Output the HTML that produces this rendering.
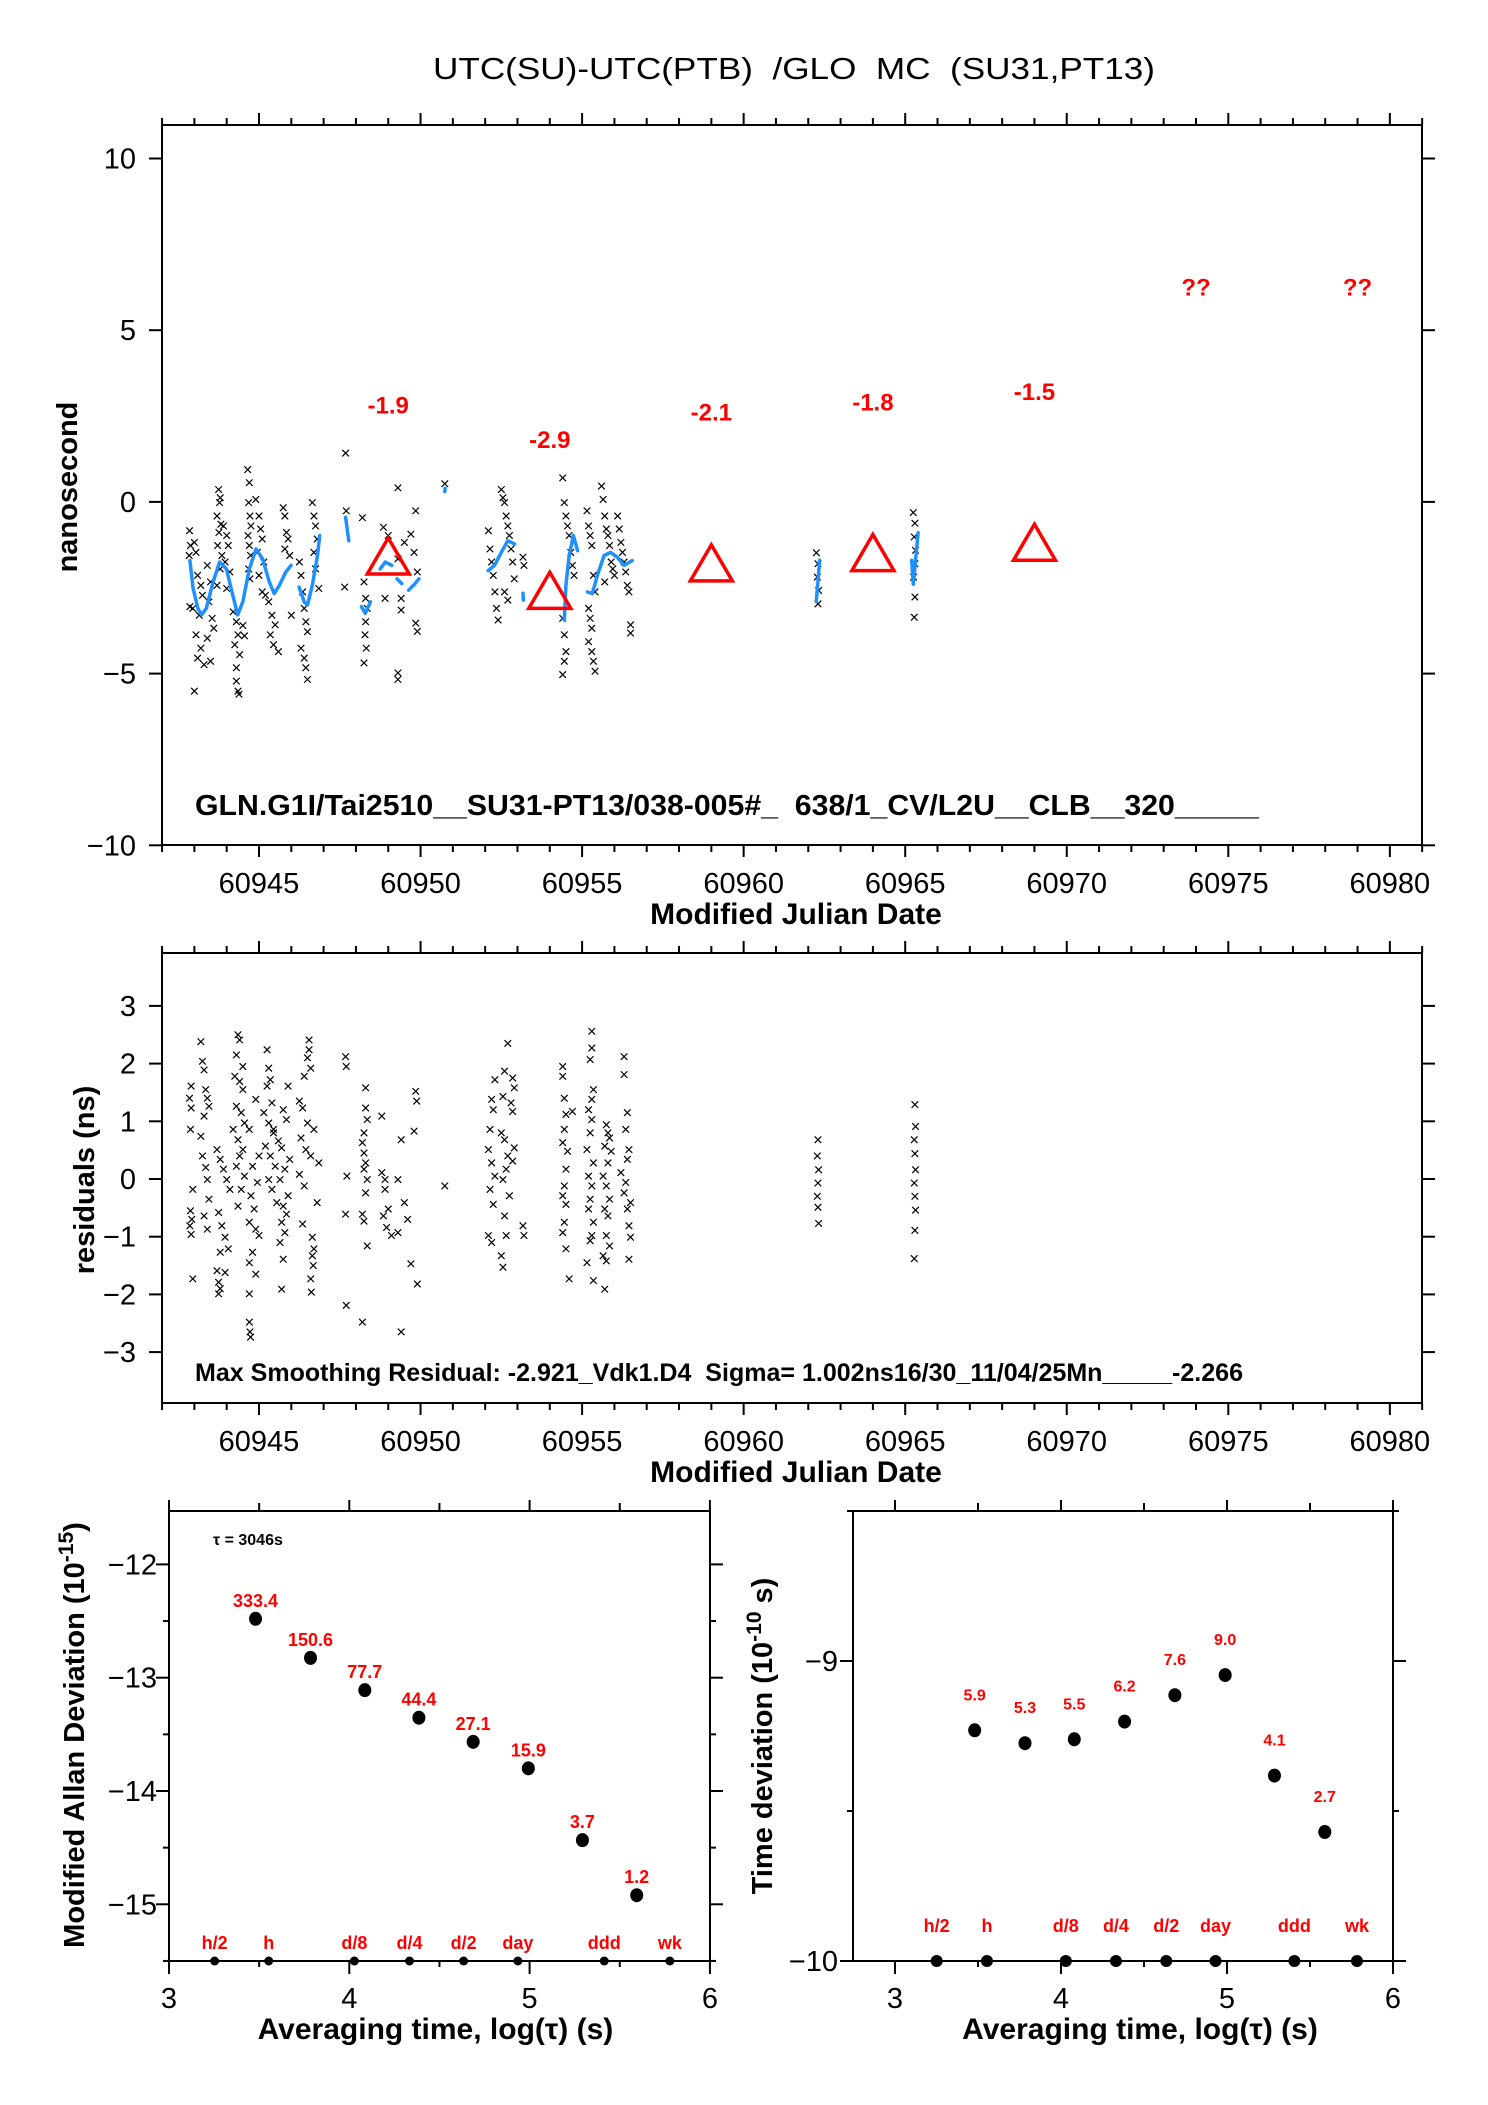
<!DOCTYPE html>
<html><head><meta charset="utf-8"><style>
html,body{margin:0;padding:0;background:#fff;}
svg{display:block;font-family:"Liberation Sans",Arial,sans-serif;}
</style></head><body>
<svg id="chart" width="1488" height="2105" viewBox="0 0 1488 2105" xmlns="http://www.w3.org/2000/svg">
<rect x="0" y="0" width="1488" height="2105" fill="#fff"/>
<text x="794" y="79" font-size="31" text-anchor="middle" textLength="722" lengthAdjust="spacingAndGlyphs" xml:space="preserve">UTC(SU)-UTC(PTB)  /GLO  MC  (SU31,PT13)</text>
<g id="topplot"></g>
<g id="midplot"></g>
<g id="adev"></g>
<g id="tdev"></g>
</svg>
<script>
// ---- top plot data ----
const topX = [60942.85,60942.88,60942.84,60942.86,
60943.0,60943.05,60943.1,60943.2,60943.25,60942.95,60943.15,60943.05,60943.2,60943.1,60943.3,60943.0,
60943.4,60943.5,60943.45,60943.55,60943.6,60943.4,60943.5,
60943.75,60943.8,60943.78,60943.7,60943.82,60943.76,60943.72,60943.85,60943.8,60943.7,
60943.9,60944.0,60944.05,60943.95,60944.1,60944.0,
60944.2,60944.3,60944.35,60944.25,60944.4,60944.3,60944.3,60944.35,60944.38,60944.5,60944.55,
60944.65,60944.7,60944.68,60944.72,60944.75,60944.66,60944.7,60944.74,60944.68,60944.72,
60944.9,60945.0,60945.05,60945.1,60944.95,60945.15,60945.0,60945.1,
60945.2,60945.3,60945.4,60945.5,60945.35,60945.45,60945.6,
60945.75,60945.8,60945.85,60945.9,60945.8,60945.95,60946.0,
60946.25,60946.3,60946.35,60946.4,60946.45,60946.5,60946.3,60946.4,60946.45,60946.5,
60946.65,60946.7,60946.75,60946.8,60946.7,60946.75,60946.85,
60947.68,60947.7,60947.65,
60948.2,60948.25,60948.3,60948.35,60948.3,60948.28,60948.32,60948.25,
60948.85,60949.0,60948.9,
60949.3,60949.85,60949.7,60949.5,60949.8,60949.3,60949.9,60949.4,60949.4,60949.85,60949.9,60949.3,60949.3,
60950.75,
60952.1,60952.15,60952.2,60952.25,60952.3,60952.35,60952.4,
60952.5,60952.55,60952.6,60952.65,60952.7,60952.75,60952.8,60952.85,60952.9,60952.6,60952.7,
60953.17,60953.2,
60954.4,60954.45,60954.5,60954.55,60954.6,60954.65,60954.7,60954.75,60954.4,60954.45,60954.5,60954.45,60954.4,
60955.15,60955.2,60955.25,60955.3,60955.35,60955.4,60955.2,60955.25,60955.3,60955.2,60955.3,60955.35,60955.4,
60955.6,60955.65,60955.7,60955.75,60955.8,60955.85,60955.9,60955.95,60956.0,60955.7,
60956.1,60956.15,60956.2,60956.25,60956.3,60956.35,60956.4,60956.45,60956.5,60956.5,
60962.25,60962.3,60962.28,60962.32,60962.3,
60965.25,60965.3,60965.28,60965.32,60965.3,60965.26,60965.3,60965.28];
const topY = [-0.84,-1.27,-1.56,-3.05,
-1.18,-1.47,-2.14,-2.43,-2.72,-3.1,-3.3,-3.87,-4.26,-4.55,-4.74,-5.51,
-1.85,-2.33,-2.91,-3.39,-3.68,-3.97,-4.64,
0.36,0.12,-0.02,-0.41,-0.65,-0.89,-1.27,-1.56,-1.95,-2.43,
-0.7,-0.98,-1.27,-1.75,-2.04,-2.52,
-3.2,-3.49,-3.87,-4.16,-4.45,-4.83,-5.22,-5.51,-5.6,-3.6,-3.9,
0.94,0.56,-0.02,-0.41,-0.7,-0.98,-1.27,-1.56,-1.95,-2.24,
0.07,-0.41,-0.79,-1.08,-1.47,-1.75,-2.14,-2.62,
-2.72,-2.91,-3.3,-3.58,-3.87,-4.16,-4.36,
-0.17,-0.41,-0.89,-1.08,-1.37,-1.56,-3.3,
-1.75,-2.14,-2.62,-3.1,-3.49,-3.78,-4.26,-4.55,-4.83,-5.17,
-0.02,-0.41,-0.7,-1.08,-1.47,-1.95,-2.52,
1.42,-0.26,-2.48,
-0.46,-2.33,-2.81,-3.1,-3.49,-3.87,-4.26,-4.69,
-0.74,-0.98,-2.81,
0.41,-0.26,-0.94,-1.18,-1.47,-1.66,-2.04,-2.81,-3.15,-3.53,-3.77,-4.98,-5.17,
0.53,
-0.84,-1.37,-1.75,-2.14,-2.62,-3.1,-3.44,
0.36,0.12,-0.02,-0.41,-0.7,-0.98,-1.37,-1.75,-2.24,-2.62,-2.86,
-1.61,-1.85,
0.7,-0.02,-0.41,-0.7,-0.98,-1.47,-1.85,-2.14,-3.39,-3.87,-4.36,-4.64,-5.03,
-0.26,-0.7,-0.98,-1.27,-2.14,-2.62,-3.1,-3.39,-3.68,-4.07,-4.36,-4.64,-4.93,
0.46,0.07,-0.41,-0.79,-0.98,-1.27,-1.75,-1.95,-2.14,-2.33,
-0.41,-0.79,-1.18,-1.47,-1.75,-2.04,-2.43,-2.62,-3.58,-3.82,
-1.48,-1.8,-2.19,-2.58,-2.97,
-0.31,-0.62,-1.02,-1.41,-1.8,-2.19,-2.77,-3.36];
const smoothX = [
[60942.86,60942.96,60943.11,60943.22,60943.37,60943.58,60943.78,60943.99,60944.19,60944.34,60944.5,60944.7,60944.91,60945.11,60945.32,60945.47,60945.63,60945.83,60945.99],
[60946.24,60946.4,60946.5,60946.65,60946.81,60946.88],
[60947.68,60947.78],[60948.17,60948.29,60948.45],[60948.75,60948.91,60949.11],[60949.27,60949.42],
[60949.63,60949.83,60949.95],[60950.75,60950.76],
[60952.09,60952.29,60952.5,60952.7,60952.91],[60953.17,60953.18],
[60954.45,60954.5,60954.6,60954.73,60954.86],
[60955.16,60955.32,60955.47,60955.68,60955.88,60956.09,60956.3,60956.55],
[60962.25,60962.3,60962.35],[60965.2,60965.25,60965.35,60965.4]];
const smoothY = [
[-1.71,-2.52,-3.10,-3.29,-3.10,-2.33,-1.75,-1.95,-2.72,-3.29,-2.91,-1.95,-1.37,-1.66,-2.33,-2.67,-2.43,-2.04,-1.85],
[-2.48,-2.91,-3.0,-2.43,-1.56,-0.98],
[-0.45,-1.13],[-3.05,-3.24,-2.91],[-1.95,-1.75,-1.85],[-2.24,-2.38],
[-2.57,-2.38,-2.24],[0.3,0.4],
[-2.0,-1.85,-1.47,-1.13,-1.23],[-2.66,-2.86],
[-3.44,-2.43,-1.56,-0.98,-1.42],
[-2.62,-2.67,-2.14,-1.56,-1.47,-1.61,-1.85,-1.71],
[-2.9,-2.3,-1.7],[-1.7,-2.4,-1.4,-0.9]];
const triMjd = [60949,60954,60959,60964,60969];
const triVal = [-1.9,-2.9,-2.1,-1.8,-1.5];
const qMjd = [60974,60979];
const topXTicks = [60945,60950,60955,60960,60965,60970,60975,60980];
const topYTicks = [10,5,0,-5,-10];

// ---- residuals data ----
const resX = [60942.85,60942.9,60942.95,60942.88,60942.92,60942.86,60942.9,60942.95,60942.9,60942.88,
60943.2,60943.25,60943.3,60943.35,60943.4,60943.45,60943.3,60943.2,60943.25,60943.35,60943.4,60943.45,60943.3,60943.4,
60943.7,60943.8,60943.9,60944.0,60944.1,60943.75,60943.85,60943.95,60944.05,60943.8,60943.7,60943.75,60943.8,60943.75,60943.95,
60944.35,60944.4,60944.3,60944.5,60944.25,60944.4,60944.5,60944.3,60944.45,60944.55,60944.2,60944.35,60944.5,60944.4,60944.3,60944.55,60944.45,60944.35,
60944.9,60944.7,60945.0,60944.8,60944.95,60944.75,60944.85,60944.7,60944.9,60945.0,60944.8,60944.7,60944.9,60944.7,60944.7,60944.72,60944.74,
60945.25,60945.3,60945.35,60945.25,60945.4,60945.15,60945.3,60945.45,60945.2,60945.35,60945.5,60945.3,60945.4,60945.55,60945.45,60945.6,
60945.9,60945.75,60945.85,60945.7,60945.95,60945.8,60945.65,60945.9,60945.75,60945.85,60945.7,60945.8,60945.65,60945.75,60945.7,
60946.55,60946.55,60946.5,60946.6,60946.4,60946.25,60946.35,60946.5,60946.7,60946.3,60946.45,60946.6,60946.85,60946.25,60946.4,60946.8,60946.35,60946.65,60946.7,60946.65,60946.68,60946.6,60946.62,
60947.68,60947.7,60947.72,60947.68,60947.7,
60948.3,60948.3,60948.35,60948.25,60948.2,60948.25,60948.3,60948.25,60948.35,60948.3,60948.2,60948.25,60948.35,60948.2,
60948.8,60948.8,60948.9,60948.9,60949.0,60948.85,60948.95,60949.1,
60949.4,60949.3,60949.5,60949.6,60949.3,60949.7,60949.9,60949.4,60949.85,60949.88,60949.8,
60950.75,
60952.3,60952.2,60952.25,60952.15,60952.1,60952.2,60952.3,60952.15,60952.25,60952.1,60952.2,
60952.7,60952.6,60952.55,60952.5,60952.6,60952.7,60952.65,60952.55,60952.75,60952.6,60952.65,60952.5,60952.55,60952.85,60952.9,60952.8,60952.85,60952.9,60952.85,
60953.17,60953.2,
60954.4,60954.4,60954.45,60954.5,60954.45,60954.4,60954.55,60954.5,60954.45,60954.4,60954.5,60954.45,60954.4,60954.5,60954.6,60954.7,
60955.3,60955.3,60955.25,60955.35,60955.3,60955.2,60955.3,60955.25,60955.15,60955.35,60955.2,60955.3,60955.25,60955.2,60955.35,60955.3,60955.25,60955.15,60955.35,
60955.75,60955.8,60955.85,60955.7,60955.9,60955.8,60955.65,60955.75,60955.85,60955.7,60955.8,60955.75,60955.85,60955.65,60955.75,60955.7,
60956.3,60956.3,60956.4,60956.35,60956.45,60956.4,60956.2,60956.35,60956.3,60956.5,60956.4,60956.45,60956.5,60956.45,
60962.3,60962.28,60962.32,60962.3,60962.28,60962.3,60962.32,
60965.3,60965.32,60965.28,60965.3,60965.32,60965.28,60965.3,60965.32,60965.3,60965.28];
const resY = [1.40,1.23,-0.18,-0.55,-0.70,-0.81,-0.96,-1.73,1.61,0.86,
2.38,2.04,1.89,1.55,1.4,1.26,1.09,0.74,0.4,0.2,-0.01,-0.35,-0.64,-0.87,
0.51,0.34,0.17,-0.01,-0.18,-0.58,-0.81,-1.01,-1.21,-1.27,-1.59,-1.79,-1.9,-1.99,-1.62,
2.50,2.41,2.15,1.95,1.78,1.69,1.55,1.26,1.15,0.97,0.86,0.68,0.51,0.4,0.22,0.05,-0.18,-0.47,
1.38,0.86,0.4,0.22,-0.06,-0.29,-0.52,-0.75,-0.87,-0.98,-1.27,-1.45,-1.65,-1.99,-2.48,-2.65,-2.74,
2.24,1.92,1.72,1.61,1.32,1.15,0.97,0.8,0.57,0.4,0.22,-0.01,-0.18,-0.41,0.86,0.66,
1.61,1.2,1.03,0.54,0.34,0.17,-0.01,-0.29,-0.47,-0.61,-0.75,-0.93,-1.1,-1.39,-1.91,
2.41,2.24,2.1,1.92,1.78,1.35,1.23,0.97,0.86,0.71,0.51,0.4,0.28,0.08,-0.12,-0.41,-0.78,-1.01,-1.21,-1.33,-1.5,-1.73,-1.96,
2.12,1.95,0.05,-0.61,-2.19,
1.58,1.23,1.03,0.8,0.63,0.45,0.28,0.17,-0.01,-0.24,-0.61,-0.73,-1.16,-2.48,
1.09,0.11,-0.01,-0.18,-0.52,-0.64,-0.84,-0.98,
0.68,-0.01,-0.41,-0.7,-0.93,-1.47,-1.82,-2.65,1.52,1.35,0.83,
-0.12,
1.72,1.38,1.2,0.86,0.51,0.28,0.05,-0.18,-0.44,-0.98,-1.1,
2.35,1.87,1.43,0.8,0.68,0.4,0.17,-0.01,-0.29,-0.64,-0.98,-1.33,-1.53,1.75,1.58,1.32,1.17,0.54,0.31,
-0.81,-0.98,
1.95,1.78,1.4,1.12,0.86,0.63,0.48,0.17,-0.12,-0.29,-0.44,-0.75,-0.93,-1.21,-1.73,1.17,
2.56,2.27,2.07,1.55,1.38,1.2,1.03,0.8,0.51,0.28,0.05,-0.12,-0.35,-0.52,-0.75,-0.98,-1.07,-1.45,-1.76,
0.94,0.8,0.71,0.57,0.48,0.28,0.05,-0.12,-0.35,-0.52,-0.64,-0.98,-1.16,-1.33,-1.42,-1.91,
2.12,1.81,1.15,0.86,0.51,0.34,0.11,-0.06,-0.24,-0.41,-0.52,-0.81,-1.01,-1.39,
0.68,0.4,0.16,-0.07,-0.3,-0.49,-0.77,
1.29,0.91,0.68,0.44,0.16,-0.07,-0.3,-0.54,-0.89,-1.38];
const resYTicks = [3,2,1,0,-1,-2,-3];

// ---- ADEV data ----
const adevLogTau = [3.48,3.785,4.086,4.386,4.687,4.993,5.293,5.594];
const adevVal = [-12.48,-12.825,-13.11,-13.353,-13.566,-13.80,-14.434,-14.92];
const adevLabels = ["333.4","150.6","77.7","44.4","27.1","15.9","3.7","1.2"];
const adevYTicks = [-12,-13,-14,-15];
// ---- TDEV data ----
const tdevLogTau = [3.48,3.783,4.08,4.383,4.686,4.989,5.286,5.589];
const tdevVal = [-9.231,-9.274,-9.261,-9.202,-9.114,-9.047,-9.382,-9.570];
const tdevLabels = ["5.9","5.3","5.5","6.2","7.6","9.0","4.1","2.7"];
const tdevYTicks = [-9,-10];
const refNames = ["h/2","h","d/8","d/4","d/2","day","ddd","wk"];
const refLogTauL = [3.253,3.553,4.028,4.334,4.634,4.935,5.414,5.778];
const refLogTauR = [3.251,3.554,4.029,4.331,4.634,4.931,5.406,5.783];
const logTicks = [3,4,5,6];

const NS = "http://www.w3.org/2000/svg";
function mk(parent, tag, attrs, txt){
  const e = document.createElementNS(NS, tag);
  for (const k in attrs) e.setAttribute(k, attrs[k]);
  if (txt !== undefined) e.textContent = txt;
  parent.appendChild(e); return e;
}
function line(p,x1,y1,x2,y2,w){ return mk(p,'line',{x1,y1,x2,y2,stroke:'#000','stroke-width':w||2}); }

const TL=162, TR=1422, TT=125, TB=845;
const xM = m => 259 + (m-60945)*32.31;
const yT = v => 501.9 - v*34.34;
const MT=953, MB=1403;
const yR = v => 1179 - v*57.7;
const AL=169, AR=710, AT=1511, AB=1961;
const xA = l => 169 + (l-3)*180.3;
const yA = v => 1904.3 - (v+15)*113.3;
const RL=853, RR=1393, RT=1511, RB=1961;
const xB = l => 895 + (l-3)*166;
const yB = v => 1961 - (v+10)*300;

function cross(p, x, y){
  return mk(p,'path',{d:`M${x-3.3},${y-3.3}L${x+3.3},${y+3.3}M${x-3.3},${y+3.3}L${x+3.3},${y-3.3}`,stroke:'#000','stroke-width':1.2,fill:'none'});
}

function mjdFrame(g, T, B){
  const fr = mk(g,'rect',{x:TL,y:T,width:TR-TL,height:B-T,fill:'none',stroke:'#000','stroke-width':2});
  
  
  for (let m=60942; m<=60981; m++){
    const x = xM(m), major = (m%5===0);
    line(g,x,T,x,T-(major?12:7),2);
    line(g,x,B,x,B+(major?12:7),2);
  }
  topXTicks.forEach(m=>{
    const t = mk(g,'text',{x:xM(m),y:B+48,'font-size':29,'text-anchor':'middle'},String(m));
    
    
  });
  const xt = mk(g,'text',{x:796,y:B+79,'font-size':30,'font-weight':'bold','text-anchor':'middle'},'Modified Julian Date');
  
  
}

// ---- top plot ----
const topG = document.getElementById('topplot');
mjdFrame(topG, TT, TB);
topYTicks.forEach(v=>{
  const y=yT(v);
  line(topG,TL-13,y,TL,y,2); line(topG,TR,y,TR+13,y,2);
  const t = mk(topG,'text',{x:136,y:y+10,'font-size':29,'text-anchor':'end'},(v<0?'\u2212':'')+Math.abs(v));
  
  
});
const yl = mk(topG,'text',{x:0,y:0,'font-size':29,'font-weight':'bold','text-anchor':'middle',transform:'translate(77,487) rotate(-90)'},'nanosecond');


for (let i=0;i<topX.length;i++){
  const c = cross(topG, xM(topX[i]), yT(topY[i]));
  
  
}
for (let s=0;s<smoothX.length;s++){
  const pts = smoothX[s].map((m,i)=>xM(m).toFixed(1)+','+yT(smoothY[s][i]).toFixed(1)).join(' ');
  const pl = mk(topG,'polyline',{points:pts,fill:'none',stroke:'#1e90ff','stroke-width':3.5,'stroke-linejoin':'round','stroke-linecap':'round'});
  
  
}
for (let i=0;i<triMjd.length;i++){
  const x=xM(triMjd[i]), yb=yT(triVal[i]-0.2), ya=yT(triVal[i]+0.85);
  const tr = mk(topG,'polygon',{points:`${x-21},${yb} ${x+21},${yb} ${x},${ya}`,fill:'none',stroke:'#ff0000','stroke-width':3.5});
  
  
  const t = mk(topG,'text',{x:x,y:yT(triVal[i]+4.7)+8,'font-size':24,'font-weight':'bold','text-anchor':'middle',fill:'#ff0000'},triVal[i].toFixed(1));
  
  
}
qMjd.forEach(m=>{
  const t = mk(topG,'text',{x:xM(m),y:yT(6.25)+8,'font-size':24,'font-weight':'bold','text-anchor':'middle',fill:'#ff0000'},'??');
  
  
});
const info = mk(topG,'text',{x:195,y:815,'font-size':29,'font-weight':'bold',textLength:1064,lengthAdjust:'spacingAndGlyphs'},'GLN.G1I/Tai2510__SU31-PT13/038-005#_\u00a0 638/1_CV/L2U__CLB__320_____');



// ---- residuals ----
const midG = document.getElementById('midplot');
mjdFrame(midG, MT, MB);
resYTicks.forEach(v=>{
  const y=yR(v);
  line(midG,TL-13,y,TL,y,2); line(midG,TR,y,TR+13,y,2);
  const t = mk(midG,'text',{x:136,y:y+10,'font-size':29,'text-anchor':'end'},(v<0?'\u2212':'')+Math.abs(v));
  
  
});
const yl2 = mk(midG,'text',{x:0,y:0,'font-size':29,'font-weight':'bold','text-anchor':'middle',transform:'translate(94,1180) rotate(-90)'},'residuals (ns)');


for (let i=0;i<resX.length;i++){
  const c = cross(midG, xM(resX[i]), yR(resY[i]));
  
  
}
const info2 = mk(midG,'text',{x:195,y:1381,'font-size':25,'font-weight':'bold',textLength:1048,lengthAdjust:'spacingAndGlyphs'},'Max Smoothing Residual: -2.921_Vdk1.D4\u00a0 Sigma= 1.002ns16/30_11/04/25Mn_____-2.266');



function logFrame(g, L, R, T, B, xf){
  const fr = mk(g,'rect',{x:L,y:T,width:R-L,height:B-T,fill:'none',stroke:'#000','stroke-width':2});
  
  
  for (let l=3; l<=6; l+=0.5){
    const x = xf(l); if (x<L-1||x>R+1) continue;
    const major = (l%1===0);
    line(g,x,T,x,T-(major?11:8),2);
    line(g,x,B,x,B+(major?13:6),2);
  }
  logTicks.forEach(l=>{
    const t = mk(g,'text',{x:xf(l),y:B+47,'font-size':29,'text-anchor':'middle'},String(l));
    
    
  });
  const xt = mk(g,'text',{x:(xf(3)+xf(6))/2-4,y:B+78,'font-size':30,'font-weight':'bold','text-anchor':'middle'},'Averaging time, log(\u03c4) (s)');
  
  
}

// ADEV
const ad = document.getElementById('adev');
logFrame(ad, AL, AR, AT, AB, xA);
for (let v=-11.5; v>=-15.5; v-=0.5){
  const y=yA(v); if (y<AT-1) continue;
  const major = (v%1===0);
  line(ad,AL-(major?13:6),y,AL,y,2); line(ad,AR,y,AR+(major?13:6),y,2);
}
adevYTicks.forEach(v=>{
  const t = mk(ad,'text',{x:157,y:yA(v)+10,'font-size':29,'text-anchor':'end'},'\u2212'+Math.abs(v));
  
  
});
const ayl = mk(ad,'text',{x:0,y:0,'font-size':29,'font-weight':'bold','text-anchor':'middle',transform:'translate(84,1735) rotate(-90)'});


ayl.innerHTML = 'Modified Allan Deviation (10<tspan font-size="21" dy="-11">-15</tspan><tspan dy="11">)</tspan>';
const tau = mk(ad,'text',{x:213,y:1545,'font-size':16,'font-weight':'bold'},'\u03c4 = 3046s');


for (let i=0;i<adevVal.length;i++){
  const x=xA(adevLogTau[i]), y=yA(adevVal[i]);
  const d = mk(ad,'ellipse',{cx:x,cy:y,rx:6.5,ry:7,fill:'#000'});
  
  
  const t = mk(ad,'text',{x:x,y:y-12,'font-size':18,'font-weight':'bold','text-anchor':'middle',fill:'#ff0000'},adevLabels[i]);
  
  
}
for (let i=0;i<refNames.length;i++){
  const x=xA(refLogTauL[i]);
  const d = mk(ad,'ellipse',{cx:x,cy:AB,rx:4.5,ry:4.5,fill:'#000'});
  
  
  const t = mk(ad,'text',{x:x,y:AB-12,'font-size':18,'font-weight':'bold','text-anchor':'middle',fill:'#ff0000'},refNames[i]);
  
  
}

// TDEV
const td = document.getElementById('tdev');
logFrame(td, RL, RR, RT, RB, xB);
for (let v=-8.5; v>=-10; v-=0.5){
  const y=yB(v);
  const major = (v%1===0);
  line(td,RL-(major?13:6),y,RL,y,2); line(td,RR,y,RR+(major?13:6),y,2);
}
tdevYTicks.forEach(v=>{
  const t = mk(td,'text',{x:838,y:yB(v)+10,'font-size':29,'text-anchor':'end'},'\u2212'+Math.abs(v));
  
  
});
const tyl = mk(td,'text',{x:0,y:0,'font-size':29,'font-weight':'bold','text-anchor':'middle',transform:'translate(772,1736) rotate(-90)'});


tyl.innerHTML = 'Time deviation (10<tspan font-size="21" dy="-11">-10</tspan><tspan dy="11"> s)</tspan>';
for (let i=0;i<tdevVal.length;i++){
  const x=xB(tdevLogTau[i]), y=yB(tdevVal[i]);
  const d = mk(td,'ellipse',{cx:x,cy:y,rx:6.5,ry:7,fill:'#000'});
  
  
  const t = mk(td,'text',{x:x,y:y-30,'font-size':16,'font-weight':'bold','text-anchor':'middle',fill:'#ff0000'},tdevLabels[i]);
  
  
}
for (let i=0;i<refNames.length;i++){
  const x=xB(refLogTauR[i]);
  const d = mk(td,'ellipse',{cx:x,cy:RB,rx:6,ry:6,fill:'#000'});
  
  
  const t = mk(td,'text',{x:x,y:RB-29,'font-size':18,'font-weight':'bold','text-anchor':'middle',fill:'#ff0000'},refNames[i]);
  
  
}
</script>
</body></html>
